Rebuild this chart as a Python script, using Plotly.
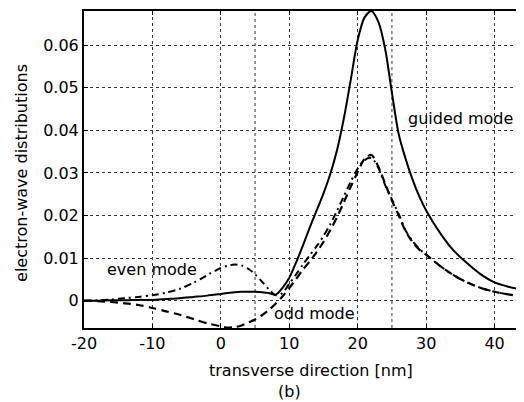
import plotly.graph_objects as go

# transverse direction [nm]
x_nm = [-20, -18, -16, -14, -12, -10, -8, -6, -4, -2, 0, 1, 2, 3, 4, 5, 6, 7, 8, 9,
        10, 11, 12, 13, 14, 15, 16, 17, 18, 19, 20, 21, 22, 23, 24, 25, 26, 27, 28, 29,
        30, 32, 34, 36, 38, 40, 42, 44, 45]

guided_mode = [0.0, 0.0, 0.0001, 0.0001, 0.0002, 0.0002, 0.0004, 0.0006, 0.0009, 0.0012,
               0.0016, 0.0018, 0.0020, 0.0021, 0.0021, 0.0021, 0.0020, 0.0018, 0.0014, 0.0030,
               0.0054, 0.0090, 0.0130, 0.0172, 0.0212, 0.0252, 0.0298, 0.0355, 0.0430, 0.0520,
               0.0612, 0.0665, 0.0680, 0.0655, 0.0592, 0.0488, 0.0390, 0.0333, 0.0285, 0.0245,
               0.0212, 0.0160, 0.0118, 0.0088, 0.0062, 0.0043, 0.0033, 0.0026, 0.0023]

even_mode = [0.0, 0.0001, 0.0003, 0.0006, 0.0009, 0.0013, 0.0019, 0.0028, 0.0042, 0.0060,
             0.0077, 0.0082, 0.0085, 0.0083, 0.0075, 0.0062, 0.0045, 0.0027, 0.0013, 0.0018,
             0.0040, 0.0062, 0.0085, 0.0107, 0.0128, 0.0152, 0.0180, 0.0212, 0.0246, 0.0280,
             0.0310, 0.0330, 0.0335, 0.0312, 0.0272, 0.0238, 0.0203, 0.0165, 0.0140, 0.0122,
             0.0108, 0.0082, 0.0060, 0.0043, 0.0030, 0.0021, 0.0015, 0.0010, 0.0008]

odd_mode = [0.0, -0.0001, -0.0003, -0.0006, -0.0010, -0.0017, -0.0025, -0.0033, -0.0043, -0.0053,
            -0.0060, -0.0063, -0.0062, -0.0058, -0.0051, -0.0044, -0.0034, -0.0022, -0.0007, 0.0010,
            0.0030, 0.0051, 0.0073, 0.0093, 0.0114, 0.0138, 0.0166, 0.0197, 0.0232, 0.0268,
            0.0302, 0.0333, 0.0342, 0.0315, 0.0275, 0.0235, 0.0200, 0.0163, 0.0138, 0.0120,
            0.0108, 0.0082, 0.0060, 0.0043, 0.0030, 0.0021, 0.0015, 0.0010, 0.0008]

x_ticks = [-20, -10, 0, 10, 20, 30, 40]
x_tick_labels = ["-20", "-10", "0", "10", "20", "30", "40"]
y_ticks = [0, 0.01, 0.02, 0.03, 0.04, 0.05, 0.06]
y_tick_labels = ["0", "0.01", "0.02", "0.03", "0.04", "0.05", "0.06"]
extra_grid_x = [5, 25]

FONT = "DejaVu Sans, Liberation Sans, Arial, sans-serif"
FS = 16

fig = go.Figure()
fig.add_trace(go.Scatter(x=x_nm, y=guided_mode, mode="lines", name="guided mode",
                         line=dict(color="black", width=2, shape="spline", smoothing=0.8)))
fig.add_trace(go.Scatter(x=x_nm, y=even_mode, mode="lines", name="even mode",
                         line=dict(color="black", width=2, dash="7px,4px,2px,4px",
                                   shape="spline", smoothing=0.8)))
fig.add_trace(go.Scatter(x=x_nm, y=odd_mode, mode="lines", name="odd mode",
                         line=dict(color="black", width=2.2, dash="8px,5px",
                                   shape="spline", smoothing=0.8)))

for gx in extra_grid_x:
    fig.add_shape(type="line", xref="x", yref="paper", x0=gx, x1=gx, y0=0, y1=1,
                  line=dict(color="#333", width=1, dash="dot"), layer="below")

txt = dict(size=FS, color="black", family=FONT)
fig.add_annotation(x=-10, y=0.0074, text="even mode", showarrow=False, font=txt)
fig.add_annotation(x=13.65, y=-0.0031, text="odd mode", showarrow=False, font=txt)
fig.add_annotation(x=43.0, y=0.0428, text="guided mode", showarrow=False,
                   xanchor="right", font=txt)
# axis titles and panel label
fig.add_annotation(x=0.516, y=-0.1325, xref="paper", yref="paper",
                   text="transverse direction [nm]", yanchor="middle", xanchor="center",
                   showarrow=False, font=txt)
fig.add_annotation(x=-0.141, y=0.489, xref="paper", yref="paper",
                   text="electron-wave distributions", textangle=-90,
                   yanchor="middle", xanchor="center", showarrow=False, font=txt)
fig.add_annotation(x=0.466, y=-0.2, xref="paper", yref="paper", text="(b)",
                   yanchor="middle", showarrow=False, font=txt)

fig.update_layout(
    width=516, height=394,
    margin=dict(l=76, r=0, t=3, b=74),
    paper_bgcolor="white", plot_bgcolor="white",
    showlegend=False,
    font=dict(family=FONT, size=FS, color="black"),
)
fig.update_xaxes(
    range=[-20, 44.3], tickvals=x_ticks, ticktext=x_tick_labels, automargin=False,
    ticks="inside", ticklen=4, tickcolor="black",
    showline=True, linecolor="black", linewidth=2, mirror="ticks",
    showgrid=True, gridcolor="#333", gridwidth=1, griddash="dot", zeroline=False,
)
fig.update_yaxes(
    range=[-0.0064, 0.068], tickvals=y_ticks, ticktext=y_tick_labels, automargin=False,
    ticks="inside", ticklen=4, tickcolor="black",
    showline=True, linecolor="black", linewidth=2, mirror="ticks",
    showgrid=True, gridcolor="#333", gridwidth=1, griddash="dot", zeroline=False,
)

fig.write_html("out.html")
